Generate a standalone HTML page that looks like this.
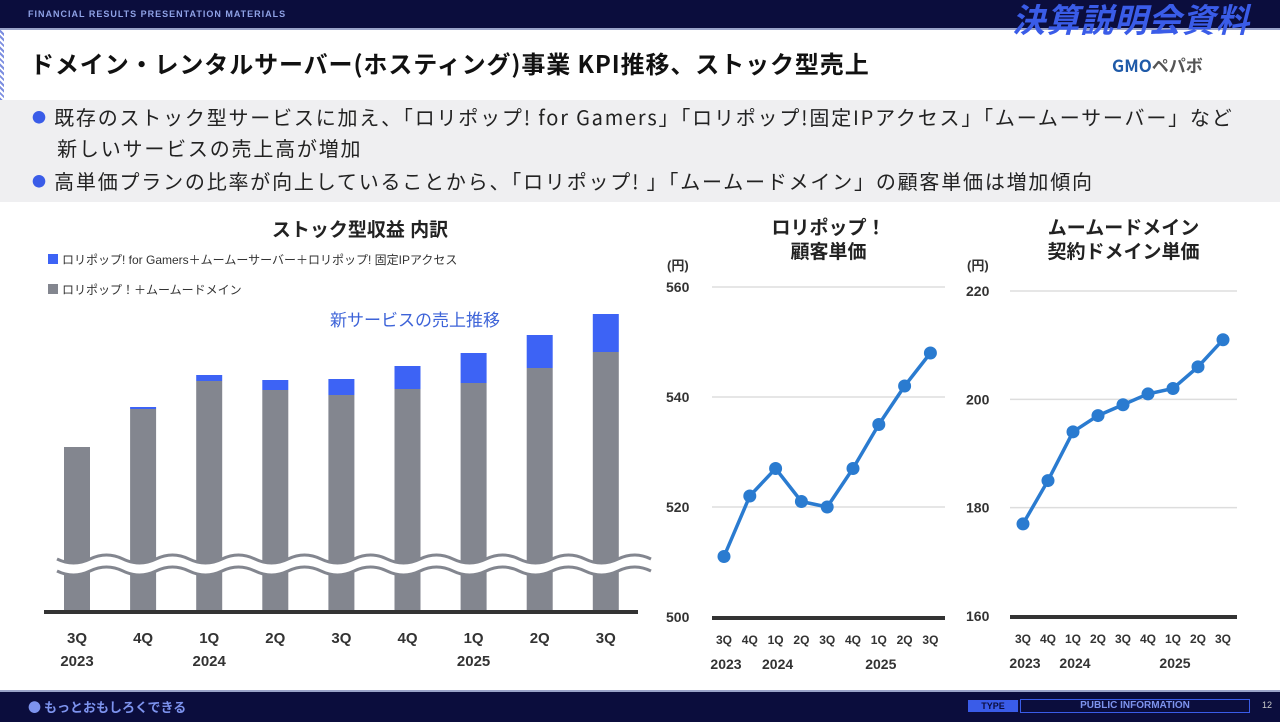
<!DOCTYPE html>
<html><head><meta charset="utf-8">
<style>
body{margin:0;width:1280px;height:720px;overflow:hidden;background:#fff;font-family:"Liberation Sans","Noto Sans CJK JP",sans-serif;position:relative}
.abs{position:absolute}
</style></head><body>
<div class="abs" style="left:0;top:0;width:1280px;height:28px;background:#0b0d3d;border-bottom:2px solid #9aa3c9"></div>
<div class="abs" style="left:28px;top:9px;font-size:9px;font-weight:bold;color:#8fa2e6;letter-spacing:1px">FINANCIAL RESULTS PRESENTATION MATERIALS</div>
<div class="abs" style="left:1012px;top:-6px;font-size:33px;font-weight:bold;font-style:italic;color:#3a5ce8;letter-spacing:1px;font-family:'Noto Sans CJK JP',sans-serif">決算説明会資料</div>
<div class="abs" style="left:0;top:30px;width:4px;height:70px;background:repeating-linear-gradient(45deg,#7c8ee0 0 2px,#fff 2px 4px)"></div>
<div class="abs" style="left:30px;top:45px;font-size:24px;letter-spacing:0.9px;font-weight:bold;color:#111;font-family:'Noto Sans CJK JP',sans-serif">ドメイン・レンタルサーバー(ホスティング)事業 KPI推移、ストック型売上</div>
<div class="abs" style="left:1112px;top:52px;font-size:17px;font-weight:bold;color:#1f5aa8;font-family:'Noto Sans CJK JP',sans-serif">GMO<span style="color:#555">ペパボ</span></div>
<div class="abs" style="left:0;top:100px;width:1280px;height:102px;background:#efeff1"></div>
<div class="abs" style="left:32px;top:103px;font-size:20px;letter-spacing:1.8px;color:#222;line-height:27px;font-family:'Noto Sans CJK JP',sans-serif"><span style="color:#3a5ce8;font-size:14px;position:relative;top:-2px">●</span>&nbsp;既存のストック型サービスに加え、「ロリポップ! for Gamers」「ロリポップ!固定IPアクセス」「ムームーサーバー」など<br>&nbsp;&nbsp;&nbsp;&nbsp;新しいサービスの売上高が増加</div>
<div class="abs" style="left:32px;top:167px;font-size:20px;letter-spacing:1.8px;color:#222;line-height:27px;font-family:'Noto Sans CJK JP',sans-serif"><span style="color:#3a5ce8;font-size:14px;position:relative;top:-2px">●</span>&nbsp;高単価プランの比率が向上していることから、「ロリポップ! 」「ムームードメイン」の顧客単価は増加傾向</div>

<svg class="abs" style="left:0;top:0" width="1280" height="720" font-family="Liberation Sans, Noto Sans CJK JP, sans-serif">
<g id="bar"></g><g id="l1"></g><g id="l2"></g>
</svg>

<div class="abs" style="left:0;top:690px;width:1280px;height:30px;background:#0b0d3d;border-top:2px solid #9aa3c9"></div>
<div class="abs" style="left:28px;top:697px;font-size:13px;font-weight:bold;color:#7d93ee;font-family:'Noto Sans CJK JP',sans-serif">● もっとおもしろくできる</div>
<div class="abs" style="left:968px;top:700px;width:50px;height:12px;background:#3a5ce8;color:#0b0d3d;font-size:9px;font-weight:bold;text-align:center;line-height:12px">TYPE</div>
<div class="abs" style="left:1020px;top:699px;width:228px;height:12px;border:1px solid #3a5ce8;color:#7d93ee;font-size:10px;font-weight:bold;text-align:center;line-height:12px">PUBLIC INFORMATION</div>
<div class="abs" style="left:1262px;top:700px;font-size:9px;color:#ccc">12</div>

<script>
const quarters=["3Q","4Q","1Q","2Q","3Q","4Q","1Q","2Q","3Q"];
const years=["2023","2024","2025"];
const yearIdx=[0,2,6];
const stockBase=[164,202,230,221,216,222,228,243,259];
const newServices=[0,2,6,10,16,23,30,33,38];
const lolipopPrice=[511,522,527,521,520,527,535,542,548];
const lolipopTicks=[500,520,540,560];
const muumuuPrice=[177,185,194,197,199,201,202,206,211];
const muumuuTicks=[160,180,200,220];
const NS="http://www.w3.org/2000/svg";
function mk(p,t,a,txt){const e=document.createElementNS(NS,t);for(const k in a)e.setAttribute(k,a[k]);if(txt!==undefined)e.textContent=txt;p.appendChild(e);return e;}

const bg=document.getElementById('bar');
const bx=i=>77+i*66.1, by=v=>611-v;
let t=mk(bg,'text',{x:360,y:236,'text-anchor':'middle','font-size':19,'font-weight':'bold',fill:'#222'},'ストック型収益 内訳');

let r=mk(bg,'rect',{x:48,y:254,width:10,height:10,fill:'#3d63f5'});

t=mk(bg,'text',{x:62,y:264,'font-size':12,fill:'#333'},'ロリポップ! for Gamers＋ムームーサーバー＋ロリポップ! 固定IPアクセス');

r=mk(bg,'rect',{x:48,y:284,width:10,height:10,fill:'#83868f'});

t=mk(bg,'text',{x:62,y:294,'font-size':12,fill:'#333'},'ロリポップ！＋ムームードメイン');

t=mk(bg,'text',{x:330,y:326,'font-size':17,fill:'#3d63d8'},'新サービスの売上推移');

stockBase.forEach((v,i)=>{
  const g=mk(bg,'rect',{x:bx(i)-13,y:by(v),width:26,height:v,fill:'#83868f'});
  
  if(newServices[i]>0){const b=mk(bg,'rect',{x:bx(i)-13,y:by(v+newServices[i]),width:26,height:newServices[i],fill:'#3d63f5'});
  }
  t=mk(bg,'text',{x:bx(i),y:643,'text-anchor':'middle','font-size':15,'font-weight':'bold',fill:'#333'},quarters[i]);
  
});
years.forEach((y,k)=>{t=mk(bg,'text',{x:bx(yearIdx[k]),y:666,'text-anchor':'middle','font-size':15,'font-weight':'bold',fill:'#333'},y);
});
const wave=y=>'M57,'+y+' '+Array(9).fill('q16.5,-8 33,0 q16.5,8 33,0').join(' ').replace(/q16.5,-8 33,0 q16.5,8 33,0/g,'q16.5,8 33,0 q16.5,-8 33,0');
let wb=mk(bg,'path',{d:wave(565),stroke:'#fff',"stroke-width":12,fill:'none'});

mk(bg,'path',{d:wave(559),stroke:'#83868f',"stroke-width":3,fill:'none'});
mk(bg,'path',{d:wave(571),stroke:'#83868f',"stroke-width":3,fill:'none'});
let ax=mk(bg,'line',{x1:44,y1:612,x2:638,y2:612,stroke:'#333','stroke-width':4});


function line(id,title1,title2,data,ticks,x0,step,yTop,yBot,axL,axR,tx,name){
  const g=document.getElementById(id);
  const lo=ticks[0],hi=ticks[ticks.length-1];
  const X=i=>x0+i*step, Y=v=>yBot-(v-lo)/(hi-lo)*(yBot-yTop);
  let t=mk(g,'text',{x:(axL+axR)/2,y:234,'text-anchor':'middle','font-size':19,'font-weight':'bold',fill:'#222'},title1);
  
  t=mk(g,'text',{x:(axL+axR)/2,y:258,'text-anchor':'middle','font-size':19,'font-weight':'bold',fill:'#222'},title2);
  
  t=mk(g,'text',{x:tx,y:270,'font-size':13,'font-weight':'bold',fill:'#333'},'(円)');
  
  ticks.forEach((v,k)=>{
    if(k>0){const gl=mk(g,'line',{x1:axL,x2:axR,y1:Y(v),y2:Y(v),stroke:'#ddd','stroke-width':1.5});
    }
    t=mk(g,'text',{x:tx-1,y:Y(v)+5,'font-size':14,'font-weight':'bold',fill:'#333'},v);
    
  });
  const a=mk(g,'line',{x1:axL,x2:axR,y1:yBot+1,y2:yBot+1,stroke:'#333','stroke-width':4});
  
  const p=mk(g,'polyline',{points:data.map((v,i)=>X(i)+','+Y(v)).join(' '),fill:'none',stroke:'#2a7bd0','stroke-width':3.5});
  
  data.forEach((v,i)=>{const c=mk(g,'circle',{cx:X(i),cy:Y(v),r:6.5,fill:'#2a7bd0'});
    
    t=mk(g,'text',{x:X(i),y:yBot+27,'text-anchor':'middle','font-size':12,'font-weight':'bold',fill:'#333'},quarters[i]);
    });
  years.forEach((y,k)=>{t=mk(g,'text',{x:X(yearIdx[k])+2,y:yBot+52,'text-anchor':'middle','font-size':14,'font-weight':'bold',fill:'#333'},y);
    });
}
line('l1','ロリポップ！','顧客単価',lolipopPrice,lolipopTicks,724,25.8,287,617,712,945,667,'lolipop-chart');
line('l2','ムームードメイン','契約ドメイン単価',muumuuPrice,muumuuTicks,1023,25,291,616,1010,1237,967,'muumuu-chart');
</script>
</body></html>
